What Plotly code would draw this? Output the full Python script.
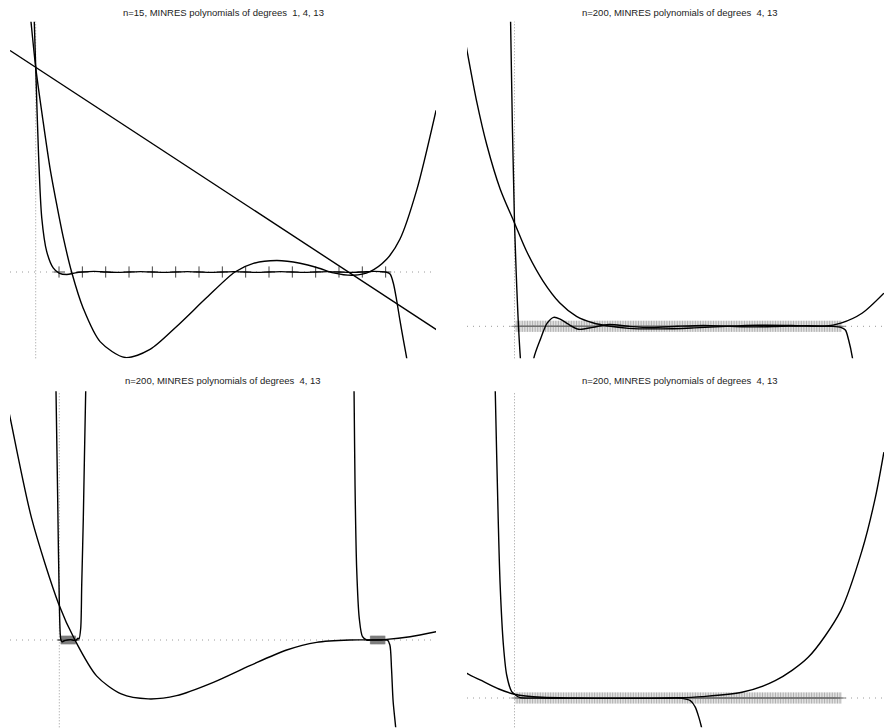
import plotly.graph_objects as go

TITLE_A = "n=15, MINRES polynomials of degrees\u00a0 1, 4, 13"
TITLE_B = "n=200, MINRES polynomials of degrees\u00a0 4, 13"

# ---------------- Panel 1: n=15 ----------------
eig15 = [1, 2, 3, 4, 5, 6, 7, 8, 9, 10, 11, 12, 13, 14, 15]
eig15_y = [0] * 15

p1_deg1_x = [-1.1, 17.2]
p1_deg1_y = [1.082, -0.283]

p1_deg4_x = [-0.25, -0.2, 0, 0.3, 0.61, 0.9, 1.18, 1.54, 2.04, 2.76, 3.83, 4.9, 6.04, 7.33,
             8.54, 9.33, 10.33, 11.33, 12.19, 12.76, 13.61, 14.33, 15.04, 15.61, 16.33, 17.16]
p1_deg4_y = [1.28, 1.221, 1.0, 0.75, 0.51, 0.33, 0.17, 0.0, -0.178, -0.34, -0.418, -0.378,
             -0.266, -0.125, 0.0, 0.042, 0.056, 0.043, 0.017, -0.004, -0.016, 0.002, 0.062,
             0.16, 0.40, 0.79]

p1_deg13_x = [-0.07, -0.06, 0, 0.12, 0.26, 0.47, 0.75, 1.0, 1.33, 1.7, 2, 2.5, 3, 3.5, 4, 4.5,
              5, 5.5, 6, 6.5, 7, 7.5, 8, 8.5, 9, 9.5, 10, 10.5, 11, 11.5, 12, 12.5, 13, 13.5,
              14, 14.5, 15, 15.19, 15.33, 15.47, 15.61, 15.76, 15.9, 15.95]
p1_deg13_y = [1.26, 1.221, 1.0, 0.58, 0.264, 0.101, 0.02, -0.005, -0.012, -0.004, 0.0, 0.003,
              0, -0.002, 0, 0.002, 0, -0.002, 0, 0.002, 0, -0.002, 0, 0.002, 0, -0.002, 0,
              0.002, 0, -0.002, 0, 0.002, 0, -0.002, 0, 0.003, 0, -0.01, -0.055, -0.137,
              -0.234, -0.332, -0.42, -0.46]

# ---------------- Eigenvalues for n=200 panels ----------------
eig_band = [
    0.005, 0.010, 0.015, 0.020, 0.025, 0.030, 0.035, 0.040, 0.045, 0.050,
    0.055, 0.060, 0.065, 0.070, 0.075, 0.080, 0.085, 0.090, 0.095, 0.100,
    0.105, 0.110, 0.115, 0.120, 0.125, 0.130, 0.135, 0.140, 0.145, 0.150,
    0.155, 0.160, 0.165, 0.170, 0.175, 0.180, 0.185, 0.190, 0.195, 0.200,
    0.205, 0.210, 0.215, 0.220, 0.225, 0.230, 0.235, 0.240, 0.245, 0.250,
    0.255, 0.260, 0.265, 0.270, 0.275, 0.280, 0.285, 0.290, 0.295, 0.300,
    0.305, 0.310, 0.315, 0.320, 0.325, 0.330, 0.335, 0.340, 0.345, 0.350,
    0.355, 0.360, 0.365, 0.370, 0.375, 0.380, 0.385, 0.390, 0.395, 0.400,
    0.405, 0.410, 0.415, 0.420, 0.425, 0.430, 0.435, 0.440, 0.445, 0.450,
    0.455, 0.460, 0.465, 0.470, 0.475, 0.480, 0.485, 0.490, 0.495, 0.500,
    0.505, 0.510, 0.515, 0.520, 0.525, 0.530, 0.535, 0.540, 0.545, 0.550,
    0.555, 0.560, 0.565, 0.570, 0.575, 0.580, 0.585, 0.590, 0.595, 0.600,
    0.605, 0.610, 0.615, 0.620, 0.625, 0.630, 0.635, 0.640, 0.645, 0.650,
    0.655, 0.660, 0.665, 0.670, 0.675, 0.680, 0.685, 0.690, 0.695, 0.700,
    0.705, 0.710, 0.715, 0.720, 0.725, 0.730, 0.735, 0.740, 0.745, 0.750,
    0.755, 0.760, 0.765, 0.770, 0.775, 0.780, 0.785, 0.790, 0.795, 0.800,
    0.805, 0.810, 0.815, 0.820, 0.825, 0.830, 0.835, 0.840, 0.845, 0.850,
    0.855, 0.860, 0.865, 0.870, 0.875, 0.880, 0.885, 0.890, 0.895, 0.900,
    0.905, 0.910, 0.915, 0.920, 0.925, 0.930, 0.935, 0.940, 0.945, 0.950,
    0.955, 0.960, 0.965, 0.970, 0.975, 0.980, 0.985, 0.990, 0.995, 1.000,
]
eig_band_y = [0] * len(eig_band)

eig_cluster = [
    0.005, 0.006, 0.007, 0.008, 0.009, 0.010, 0.011, 0.012, 0.013, 0.014,
    0.015, 0.016, 0.017, 0.018, 0.019, 0.020, 0.021, 0.022, 0.023, 0.024,
    0.025, 0.026, 0.027, 0.028, 0.029, 0.030, 0.031, 0.032, 0.033, 0.034,
    0.035, 0.036, 0.037, 0.038, 0.039, 0.040, 0.041, 0.042, 0.043, 0.044,
    0.045, 0.046, 0.047, 0.048, 0.049, 0.050,
    0.955, 0.956, 0.957, 0.958, 0.959, 0.960, 0.961, 0.962, 0.963, 0.964,
    0.965, 0.966, 0.967, 0.968, 0.969, 0.970, 0.971, 0.972, 0.973, 0.974,
    0.975, 0.976, 0.977, 0.978, 0.979, 0.980, 0.981, 0.982, 0.983, 0.984,
    0.985, 0.986, 0.987, 0.988, 0.989, 0.990, 0.991, 0.992, 0.993, 0.994,
    0.995, 0.996, 0.997, 0.998, 0.999, 1.000,
]
eig_cluster_y = [0] * len(eig_cluster)

# ---------------- Panel 2 ----------------
p2_deg4_x = [-0.16, -0.146, -0.116, -0.085, -0.044, 0, 0.037, 0.088, 0.139, 0.19, 0.242,
             0.283, 0.35, 0.45, 0.55, 0.65, 0.75, 0.85, 0.95, 1.0, 1.065, 1.132]
p2_deg4_y = [2.92, 2.677, 2.178, 1.758, 1.33, 1.0, 0.726, 0.436, 0.226, 0.097, 0.032,
             0.005, -0.02, -0.025, -0.015, 0.0, 0.01, 0.008, 0.0, 0.03, 0.126, 0.32]

p2_deg13_x = [-0.014, -0.012, 0, 0.018, 0.03, 0.045, 0.059, 0.08, 0.1, 0.12, 0.14, 0.165,
              0.197, 0.24, 0.289, 0.35, 0.42, 0.5, 0.58, 0.66, 0.74, 0.82, 0.9, 0.97, 1.0,
              1.014, 1.024, 1.036, 1.04]
p2_deg13_y = [3.3, 2.95, 1.0, -0.31, -0.7, -0.7, -0.31, -0.12, 0.03, 0.087, 0.07, 0.02,
              -0.029, -0.01, 0.018, 0.0, -0.012, 0.0, 0.008, 0.0, -0.006, 0.0, 0.005, 0.0,
              -0.01, -0.036, -0.133, -0.31, -0.4]

# ---------------- Panel 3 ----------------
p3_deg4_x = [-0.16, -0.151, -0.085, -0.002, 0.048, 0.115, 0.19, 0.273, 0.36, 0.473, 0.585,
             0.698, 0.79, 0.893, 0.95, 1.005, 1.077, 1.157]
p3_deg4_y = [6.2, 5.85, 3.2, 0.95, 0.0, -0.95, -1.42, -1.55, -1.465, -1.114, -0.675,
             -0.263, -0.061, 0.0, 0.003, 0.018, 0.087, 0.219]

p3_deg13_x = [-0.011, -0.0101, -0.0049, 0, 0.0043, 0.008, 0.015, 0.025, 0.035, 0.045, 0.052,
              0.0575, 0.0605, 0.0657, 0.0688, 0.0737, 0.081, 0.083,
              None,
              0.904, 0.905, 0.908, 0.913, 0.921, 0.931, 0.944, 0.96, 0.975, 0.99, 1.007,
              1.015, 1.02, 1.025, 1.033, 1.035]
p3_deg13_y = [7.0, 6.53, 3.68, 1.0, 0.03, -0.05, -0.02, 0.0, 0.01, -0.01, 0.0,
              0.05, 0.03, 0.31, 1.45, 3.2, 6.53, 7.0,
              None,
              7.0, 6.53, 4.08, 1.89, 0.57, 0.087, 0.0, 0.0, 0.0, 0.0, 0.0,
              -0.13, -0.75, -1.62, -2.32, -2.6]

# ---------------- Panel 4 ----------------
p4_deg4_x = [-0.16, -0.146, -0.1, -0.048, 0, 0.084, 0.186, 0.3, 0.4, 0.5, 0.575, 0.697,
             0.799, 0.9, 1.0, 1.065, 1.106, 1.132]
p4_deg4_y = [7.6, 6.5, 4.55, 2.37, 1.0, 0.18, 0.0, -0.05, -0.03, 0.05, 0.35, 1.5,
             4.55, 10.7, 23.0, 38.8, 52.8, 64.7]

p4_deg13_x = [-0.062, -0.059, -0.05, -0.044, -0.034, -0.024, -0.0086, 0, 0.017, 0.068,
              0.15, 0.25, 0.35, 0.45, 0.513, 0.539, 0.554, 0.565, 0.572, 0.575]
p4_deg13_y = [95, 80.7, 47.3, 29.7, 13.9, 6.05, 1.66, 1.0, 0.08, 0.0,
              -0.1, -0.1, -0.1, -0.1, -0.1, -0.7, -2.4, -5.1, -7.3, -8.5]

# ---------------- Figure ----------------
W, H = 884, 728
CURVE = dict(color="black", width=1.4, shape="spline", smoothing=0.8)

fig = go.Figure()


def curve(x, y, ax):
    fig.add_trace(go.Scatter(x=x, y=y, mode="lines", line=CURVE, xaxis="x" + ax,
                             yaxis="y" + ax, connectgaps=False, hoverinfo="skip",
                             showlegend=False))


def marks(x, y, ax, color, size, opacity=1.0):
    fig.add_trace(go.Scatter(x=x, y=y, mode="markers", xaxis="x" + ax, yaxis="y" + ax,
                             marker=dict(symbol="cross-thin", size=size, opacity=opacity,
                                         line=dict(color=color, width=1)),
                             hoverinfo="skip", showlegend=False))


# panel 1
marks(eig15, eig15_y, "", "#444444", 8)
curve(p1_deg1_x, p1_deg1_y, "")
curve(p1_deg4_x, p1_deg4_y, "")
curve(p1_deg13_x, p1_deg13_y, "")
# panel 2
marks(eig_band, eig_band_y, "2", "#6e6e6e", 8, 0.55)
curve(p2_deg4_x, p2_deg4_y, "2")
curve(p2_deg13_x, p2_deg13_y, "2")
# panel 3
marks(eig_cluster, eig_cluster_y, "3", "#6a6a6a", 6, 0.5)
curve(p3_deg4_x, p3_deg4_y, "3")
curve(p3_deg13_x, p3_deg13_y, "3")
# panel 4
marks(eig_band, eig_band_y, "4", "#6e6e6e", 8, 0.55)
curve(p4_deg4_x, p4_deg4_y, "4")
curve(p4_deg13_x, p4_deg13_y, "4")

fx_left = [10 / W, 436 / W]
fx_right = [467 / W, 1.0]
fy_top = [1 - 358.3 / H, 1 - 21.7 / H]
fy_bot = [1 - 727.3 / H, 1 - 391.3 / H]

ax_common = dict(showgrid=False, zeroline=False, showticklabels=False, showline=False,
                 ticks="", fixedrange=True)

fig.update_layout(
    width=W, height=H, autosize=False,
    margin=dict(l=0, r=0, t=0, b=0, pad=0),
    paper_bgcolor="white", plot_bgcolor="white",
    showlegend=False,
    xaxis=dict(domain=fx_left, range=[-1.1016, 17.158], anchor="y", **ax_common),
    yaxis=dict(domain=fy_top, range=[-0.4216, 1.2228], anchor="x", **ax_common),
    xaxis2=dict(domain=fx_right, range=[-0.1456, 1.1324], anchor="y2", **ax_common),
    yaxis2=dict(domain=fy_top, range=[-0.3098, 2.9487], anchor="x2", **ax_common),
    xaxis3=dict(domain=fx_left, range=[-0.1514, 1.1566], anchor="y3", **ax_common),
    yaxis3=dict(domain=fy_bot, range=[-2.297, 6.545], anchor="x3", **ax_common),
    xaxis4=dict(domain=fx_right, range=[-0.1456, 1.1324], anchor="y4", **ax_common),
    yaxis4=dict(domain=fy_bot, range=[-7.71, 80.71], anchor="x4", **ax_common),
)

shapes = []
for ax in ["", "2", "3", "4"]:
    xr = "x" + ax
    yr = "y" + ax
    shapes.append(dict(type="line", xref=xr + " domain", yref=yr, x0=0, x1=1, y0=0, y1=0,
                       line=dict(color="#9a9a9a", width=1, dash="1px,5px"), layer="below"))
    shapes.append(dict(type="line", xref=xr, yref=yr + " domain", x0=0, x1=0, y0=0, y1=1,
                       line=dict(color="#9a9a9a", width=1, dash="1px,2px"), layer="below"))
fig.update_layout(shapes=shapes)

title_font = dict(family="Liberation Sans, Arial, Helvetica, sans-serif", size=9.5,
                  color="#222222")
for text, x, y in [(TITLE_A, 223 / W, 1 - 12.7 / H), (TITLE_B, 680 / W, 1 - 12.7 / H),
                   (TITLE_B, 223 / W, 1 - 380.7 / H), (TITLE_B, 680 / W, 1 - 380.7 / H)]:
    fig.add_annotation(text=text, x=x, y=y, xref="paper", yref="paper", showarrow=False,
                       xanchor="center", yanchor="middle", font=title_font)

fig.write_html(
    "out.html",
    config={"displayModeBar": False, "staticPlot": True},
    post_script="document.body.style.margin='0px';document.body.style.overflow='hidden';",
)
